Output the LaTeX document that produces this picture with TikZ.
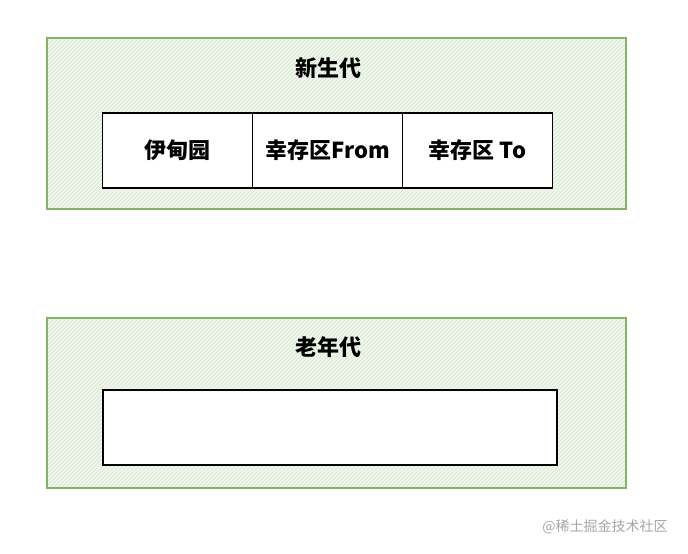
\documentclass[tikz,border=0pt]{standalone}
\usepackage{fontspec}
\newfontfamily\cjk{Noto Sans CJK SC}
\usetikzlibrary{positioning, patterns}

\definecolor{genline}{HTML}{82B366}
\definecolor{genfill}{HTML}{F1F7EE}

\begin{document}
\begin{tikzpicture}[
  x=0.75pt, y=-0.75pt,
  region/.style={
    rectangle, draw=genline, line width=0.9pt,
    preaction={fill=genfill},
    pattern=north east lines, pattern color=genline!35,
    minimum width=434.25pt, minimum height=128.25pt, inner sep=0pt
  },
  cell/.style={
    rectangle, draw=black, line width=0.8pt, fill=white,
    minimum width=112.5pt, minimum height=56.25pt, inner sep=0pt, outer sep=0pt,
    font=\cjk\bfseries\fontsize{16.5}{19}\selectfont
  },
  title/.style={font=\cjk\bfseries\fontsize{16.5}{19}\selectfont},
  wmark/.style={font=\cjk\fontsize{10.5}{12}\selectfont, text=gray!70},
]
  \useasboundingbox (0,0) rectangle (688,553);

  % Regions
  \node[region] (young) at (336.5,123.5) {};
  \node[region, minimum height=127.5pt] (old) at (336.5,403) {};

  % Titles
  \node[title] (youngt) at (328,68) {新生代};
  \node[title] (oldt) at (328,347) {老年代};

  % Young generation cells
  \node[cell] (eden) at (177.5,150.5) {伊甸园};
  \node[cell, right=0pt of eden] (from) {幸存区From};
  \node[cell, right=0pt of from] (to) {幸存区 To};

  % Old generation cell
  \node[cell, minimum width=340.5pt] (tenured) at (330,427.5) {};

  % Watermark
  \node[wmark] (wm) at (605,527) {@稀土掘金技术社区};
\end{tikzpicture}
\end{document}
